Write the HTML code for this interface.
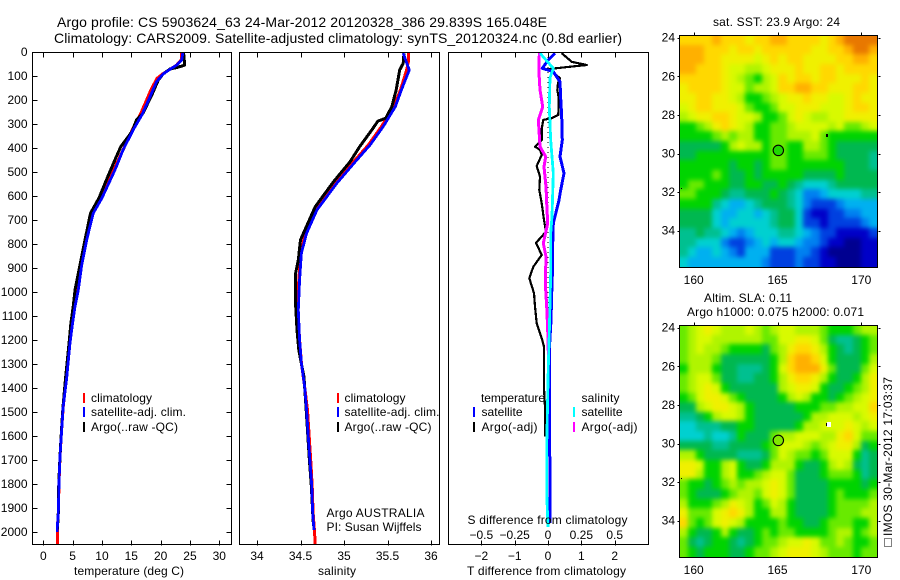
<!DOCTYPE html>
<html lang="en">
<head>
<meta charset="utf-8">
<title>Argo profile CS 5903624_63</title>
<style>
html,body{margin:0;padding:0;background:#fff;}
svg{display:block;}
text{font-family:"Liberation Sans",sans-serif;font-size:12px;fill:#000;}
.t14{font-size:14px;}
</style>
</head>
<body>
<svg id="chart" xmlns="http://www.w3.org/2000/svg" width="900" height="580" viewBox="0 0 900 580">
  <defs>
    <filter id="map-soften" filterUnits="userSpaceOnUse" x="640" y="0" width="260" height="580" color-interpolation-filters="sRGB">
      <feGaussianBlur stdDeviation="2.4"/>
    </filter>
  </defs>
  <rect x="0" y="0" width="900" height="580" fill="#fff"/>
  <text class="t14" x="57" y="27" textLength="490" lengthAdjust="spacing">Argo profile: CS 5903624_63 24-Mar-2012 20120328_386 29.839S 165.048E</text>
  <text class="t14" x="54" y="43" textLength="568" lengthAdjust="spacing">Climatology: CARS2009. Satellite-adjusted climatology: synTS_20120324.nc (0.8d earlier)</text>

  <g id="layer-maps"></g>
  <g id="layer-profiles"></g>

  <g>
    <rect x="83" y="393" width="2" height="10" fill="#f00"/>
    <rect x="83" y="407" width="2" height="10" fill="#00f"/>
    <rect x="83" y="422" width="2" height="10" fill="#000"/>
    <text x="91" y="402" textLength="61">climatology</text>
    <text x="91" y="416" textLength="95">satellite-adj. clim.</text>
    <text x="91" y="431" textLength="87">Argo(..raw -QC)</text>
  </g>
  <g>
    <rect x="337" y="393" width="2" height="10" fill="#f00"/>
    <rect x="337" y="407" width="2" height="10" fill="#00f"/>
    <rect x="337" y="422" width="2" height="10" fill="#000"/>
    <text x="344.5" y="402" textLength="61">climatology</text>
    <text x="344.5" y="416" textLength="95">satellite-adj. clim.</text>
    <text x="344.5" y="431" textLength="87">Argo(..raw -QC)</text>
    <text x="326.5" y="517" textLength="98">Argo AUSTRALIA</text>
    <text x="326.5" y="531" textLength="95">PI: Susan Wijffels</text>
  </g>
  <g>
    <text x="481" y="402" textLength="64">temperature</text>
    <text x="581.5" y="402" textLength="38">salinity</text>
    <rect x="473" y="407" width="2" height="10" fill="#00f"/>
    <rect x="473" y="422" width="2" height="10" fill="#000"/>
    <rect x="573" y="407" width="2" height="10" fill="#0ff"/>
    <rect x="573" y="422" width="2" height="10" fill="#f0f"/>
    <text x="481.5" y="416" textLength="41">satellite</text>
    <text x="481.5" y="431" textLength="56">Argo(-adj)</text>
    <text x="581.5" y="416" textLength="41">satellite</text>
    <text x="581.5" y="431" textLength="56">Argo(-adj)</text>
  </g>

  <text x="74" y="575" textLength="110">temperature (deg C)</text>
  <text x="318" y="575" textLength="38">salinity</text>
  <text x="467" y="575" textLength="159">T difference from climatology</text>
  <text x="467.5" y="524" textLength="160">S difference from climatology</text>

  <text x="713" y="26" textLength="127">sat. SST: 23.9 Argo: 24</text>
  <text x="704" y="302" textLength="88">Altim. SLA: 0.11</text>
  <text x="687" y="316" textLength="177">Argo h1000: 0.075 h2000: 0.071</text>

  <rect x="884.5" y="538.5" width="7" height="8" fill="none" stroke="#000" stroke-width="1" stroke-dasharray="1 1" shape-rendering="crispEdges"/>
  <text transform="translate(892,536) rotate(-90)" x="0" y="0" textLength="159">IMOS 30-Mar-2012 17:03:37</text>
</svg>

<script>
// ---------- depth axis ----------
const depthTicks = [0,100,200,300,400,500,600,700,800,900,1000,1100,1200,1300,1400,1500,1600,1700,1800,1900,2000];

// ---------- temperature panel ----------
const tempTicks = [0,5,10,15,20,25,30];
const tempClimDepth = [0,33,55,72,92,110,150,200,262,317,408,492,608,672,783,888,992,1061,1130,1212,1358,1478,1575,1686,1796,1921,1980,2055];
const tempClimValue = [23.6,23.5,22.7,21.6,20.3,19.4,18.5,17.6,16.5,15.3,13.6,12.0,9.8,8.3,7.3,6.4,5.8,5.3,4.95,4.5,3.95,3.4,3.12,2.85,2.68,2.55,2.4,2.4];
const tempSatDepth = [0,33,55,72,92,124,186,262,325,408,492,608,672,783,888,992,1061,1130,1212,1358,1478,1575,1686,1796,1921,1980,2000];
const tempSatValue = [23.8,23.6,22.7,21.6,20.4,19.3,18.2,16.8,15.3,13.6,12.2,10.0,8.5,7.4,6.55,5.97,5.4,5.0,4.55,3.99,3.4,3.14,2.85,2.68,2.56,2.39,2.39];
const tempArgoDepth = [0,26,55,65,71,92,117,179,255,283,332,395,450,519,608,672,795,888,992,1061,1130,1212,1358,1478,1575,1686,1796,1921,1990];
const tempArgoValue = [23.9,24.0,24.1,22.7,21.6,20.4,19.6,18.5,17.0,15.9,15.1,13.2,12.2,11.0,9.5,8.05,7.0,6.25,5.4,5.1,4.7,4.4,3.8,3.35,3.1,2.85,2.65,2.55,2.4];

// ---------- salinity panel ----------
const salTicks = [34,34.5,35,35.5,36];
const salClimDepth = [0,40,75,158,228,311,387,457,546,658,742,853,950,1075,1200,1296,1400,1492,1603,1713,1811,1921,1992,2055];
const salClimValue = [35.74,35.74,35.72,35.65,35.57,35.43,35.28,35.11,34.9,34.67,34.56,34.5,34.48,34.47,34.49,34.51,34.55,34.58,34.6,34.62,34.635,34.645,34.66,34.67];
const salSatDepth = [5,75,158,228,311,387,457,546,658,755,838,950,1075,1200,1296,1400,1492,1603,1713,1811,1921,1992];
const salSatValue = [35.68,35.75,35.66,35.59,35.45,35.30,35.13,34.92,34.69,34.57,34.51,34.49,34.475,34.49,34.51,34.55,34.57,34.59,34.61,34.63,34.64,34.655];
const salArgoDepth = [5,47,75,158,228,276,288,325,394,457,540,644,783,867,920,1060,1158,1242,1354,1492,1603,1713,1811,1921,1975];
const salArgoValue = [35.69,35.68,35.64,35.6,35.55,35.48,35.39,35.32,35.18,35.07,34.88,34.67,34.50,34.475,34.445,34.445,34.46,34.48,34.54,34.565,34.585,34.605,34.625,34.64,34.65];

// ---------- difference panel ----------
const diffTTicks = [-2,-1,0,1,2];
const diffSTicks = [-0.5,-0.25,0,0.25,0.5];
const diffSTickLabels = ["\u22120.5","\u22120.25","0","0.25","0.5"];
const diffTTickLabels = ["\u22122","\u22121","0","1","2"];
const diffTArgoDepth = [5,41,54,60,72,90,110,130,158,190,262,276,283,320,367,394,408,429,475,519,575,630,700,749,795,846,895,942,1005,1061,1130,1192,1228,1311,1400,1505,1603];
const diffTArgoValue = [.41,.71,1.16,.75,-.04,.2,.36,.3,.28,.32,.31,.11,-.14,-.19,-.19,-.39,-.24,-.19,-.34,-.24,-.26,-.19,-.12,-.06,-.36,-.19,-.44,-.56,-.42,-.39,-.34,-.19,-.12,-.12,-.12,-.08,-.08];
const diffTSatDepth = [5,33,68,82,124,193,270,367,436,505,575,617,686,714,797,880,1005,1117,1242,1394,1505,1783,1963];
const diffTSatValue = [.21,.01,-.17,.16,.36,.38,.41,.43,.36,.48,.38,.33,.21,.16,.14,.14,.11,.09,.04,.04,.04,.06,.06];
const diffSArgoDepth = [5,88,158,228,283,325,394,436,478,561,630,714,797,853,963,1061,1158,1250,1650];
const diffSArgoValue = [-.065,-.0675,-.06,-.04,-.0725,-.0675,-.06,-.0175,-.03,-.015,-.01,-.0025,-.035,-.015,-.02,-.01,-.0025,.0025,.005];
const diffSSatDepth = [5,68,108,228,367,505,686,755,922,1171,1311,1645,1838,1980];
const diffSSatValue = [-.06,.04,.015,.01,.02,.04,.03,.02,.02,.01,.0025,-.01,-.01,0];

// ---------- maps ----------
const mapLonTicks = [160,165,170];
const mapLatTicks = [24,26,28,30,32,34];
const mapLevelColors = ["#000090","#0000c8","#0040e0","#0080f0","#00b0f0","#00d0d0","#00c090","#00b850","#00d400","#68ea00","#b0f400","#d8fa00","#f0f000","#ffd800","#ffb000","#e87800"];
const floatLon = [165.05];
const floatLat = [29.84];
const sstLevels = [
[13,13,13,13,14,13,13,13,12,13,13,14,14,13,13,13,13,12,13,14,15,15,15,15],
[14,14,14,13,13,13,12,13,13,12,13,13,13,13,13,13,12,12,13,13,14,15,15,14],
[14,14,14,13,13,12,12,12,12,11,12,13,12,13,13,12,12,12,12,13,13,14,14,13],
[14,14,13,13,13,12,11,11,10,10,11,12,12,12,13,12,12,13,13,12,13,13,13,13],
[13,13,13,13,13,12,11,10,9,8,10,11,13,12,13,13,12,13,13,12,12,12,13,12],
[12,13,13,13,13,12,11,11,9,10,10,11,13,13,14,14,13,13,12,12,12,13,13,12],
[12,12,13,13,12,12,11,10,8,8,9,10,11,12,12,13,12,12,11,11,12,13,12,12],
[11,12,13,13,12,12,12,11,9,8,8,9,11,11,12,12,12,11,11,11,12,13,13,12],
[10,11,12,12,13,13,12,11,11,10,8,8,9,11,12,11,10,10,11,11,12,12,12,12],
[8,8,9,10,12,13,12,11,10,8,8,9,9,10,11,11,11,11,10,11,9,9,10,11],
[8,8,8,8,9,10,9,10,10,8,8,9,9,10,10,10,11,9,8,8,8,8,8,8],
[7,7,7,7,7,8,10,11,10,10,8,9,9,8,8,10,10,9,8,7,7,7,7,7],
[7,7,8,8,8,8,8,8,8,8,8,9,9,8,8,9,9,9,8,7,7,7,7,6],
[8,8,8,8,8,8,7,8,8,7,8,9,9,8,8,8,8,8,8,8,7,7,7,6],
[8,8,8,8,9,8,7,7,8,7,8,8,8,8,8,7,7,7,7,8,7,7,7,7],
[8,9,9,8,8,8,7,7,8,8,7,7,8,7,6,5,5,5,6,7,7,7,7,7],
[9,9,8,8,8,7,6,6,7,7,7,8,7,6,5,3,3,4,5,5,5,5,6,6],
[8,8,8,8,6,5,4,4,5,6,7,7,7,6,5,3,2,2,2,3,4,4,4,4],
[7,7,7,7,5,4,4,5,5,4,5,6,7,7,5,2,1,1,2,2,3,3,4,4],
[7,7,7,7,5,4,5,5,5,5,5,6,7,7,5,2,2,1,2,2,2,2,3,4],
[6,6,7,6,6,5,4,3,4,5,5,5,6,6,5,4,3,2,2,1,1,1,1,2],
[6,6,5,5,5,3,2,2,3,4,5,4,5,5,4,3,3,2,1,1,0,0,1,1],
[6,5,4,4,5,4,3,2,4,4,4,2,2,2,3,3,2,1,0,0,0,0,1,1],
[5,4,4,4,4,4,4,4,4,4,3,2,2,2,3,2,2,1,1,0,0,0,1,1]
];
const slaLevels = [
[9,10,11,12,11,10,10,10,11,10,9,10,11,11,10,10,10,9,8,8,8,9,10,10],
[9,10,11,11,10,10,10,10,10,10,9,9,11,11,12,12,11,9,7,6,6,7,8,9],
[9,10,11,10,10,9,8,8,8,8,7,9,10,12,13,13,12,10,8,7,6,7,8,9],
[9,10,10,10,9,7,7,7,7,7,7,8,10,13,14,14,13,11,8,7,7,7,8,10],
[8,10,10,10,8,7,7,6,6,6,7,8,11,13,14,14,14,12,9,7,7,7,9,11],
[9,10,11,11,9,7,7,6,6,7,7,8,10,12,13,13,12,10,8,7,7,8,10,12],
[9,10,11,12,11,8,7,7,7,7,7,7,10,11,12,12,11,8,7,7,8,9,10,12],
[8,9,11,12,12,11,9,8,7,7,7,7,8,10,11,10,8,8,7,8,9,10,11,12],
[7,7,10,11,12,12,11,10,8,7,7,7,7,7,8,8,8,9,9,10,10,11,11,13],
[6,6,7,8,10,11,11,10,8,7,7,7,7,7,7,8,10,10,11,11,11,10,11,12],
[5,5,6,6,6,7,7,8,8,7,7,7,7,7,8,10,10,11,11,11,12,11,10,11],
[5,5,5,6,5,5,6,8,7,7,7,9,10,10,11,11,11,10,10,12,13,11,9,9],
[7,7,7,7,6,6,7,7,7,7,8,9,11,11,11,10,9,10,11,12,12,10,7,8],
[10,10,8,7,7,7,7,6,6,6,7,9,11,10,9,9,8,9,11,11,11,8,6,7],
[12,12,11,8,8,10,11,8,7,7,8,10,10,10,8,7,7,8,10,11,10,7,6,7],
[12,12,10,8,8,10,11,8,8,9,10,11,11,9,7,7,7,8,9,9,9,8,6,7],
[9,8,8,7,8,9,10,9,10,10,11,12,11,9,7,7,7,7,8,8,8,8,7,8],
[9,8,7,7,7,8,9,10,10,9,11,12,11,9,7,7,7,7,8,9,8,8,8,9],
[10,8,8,8,9,10,12,11,10,8,9,11,10,8,7,7,7,7,8,9,9,9,9,10],
[12,9,9,9,11,12,13,12,10,8,8,10,10,8,7,7,7,7,8,9,9,9,10,10],
[13,9,8,9,11,12,11,10,8,8,8,8,9,8,8,7,7,8,9,9,9,8,8,10],
[10,8,7,7,8,10,8,7,7,8,9,8,9,9,8,8,8,8,9,10,10,8,9,10],
[9,7,6,7,8,8,7,6,7,8,9,9,10,11,11,12,11,9,9,10,9,8,8,9],
[9,8,7,8,8,8,7,7,8,9,9,10,11,12,12,12,11,10,9,9,9,8,9,9]
];

// ---------- panel layout ----------
const svgNS = "http://www.w3.org/2000/svg";
const panelTop = 52, panelBottom = 545;
const depthY = d => panelTop + 0.24 * d;
const tempX = v => 43.3 + 5.867 * v;
const salX = v => 257 + 87 * (v - 34);
const diffTX = v => 548 + 33.33 * v;
const diffSX = v => 548 + 133.33 * v;

const mapWest = 159.15, mapEast = 170.95, mapNorth = 23.86, mapSouth = 35.86;
const mapLonX = lon => 693.7 + 16.76 * (lon - 160);
const profiles = document.getElementById("layer-profiles");
const maps = document.getElementById("layer-maps");

function make(tag, parent) {
  const el = document.createElementNS(svgNS, tag);
  parent.appendChild(el);
  return el;
}
function drawText(parent, str, x, y, anchor, name) {
  const t = make("text", parent);
  t.setAttribute("x", x);
  t.setAttribute("y", y);
  t.setAttribute("text-anchor", anchor);
  t.textContent = str;
  
  
  return t;
}
function drawTick(parent, x1, y1, x2, y2, name) {
  const l = make("line", parent);
  l.setAttribute("x1", Math.round(x1) + 0.5);
  l.setAttribute("x2", Math.round(x2) + 0.5);
  l.setAttribute("y1", Math.round(y1) + 0.5);
  l.setAttribute("y2", Math.round(y2) + 0.5);
  l.setAttribute("stroke", "#000");
  l.setAttribute("stroke-width", "1");
  l.setAttribute("shape-rendering", "crispEdges");
  
  
}
function drawFrame(parent, x, y, w, h, sw, name) {
  const r = make("rect", parent);
  r.setAttribute("x", x);
  r.setAttribute("y", y);
  r.setAttribute("width", w);
  r.setAttribute("height", h);
  r.setAttribute("fill", "none");
  r.setAttribute("stroke", "#000");
  r.setAttribute("stroke-width", sw);
  r.setAttribute("shape-rendering", "crispEdges");
  
  
}
function drawSeries(parent, depths, values, xFn, color, width, name, clipId) {
  const p = make("polyline", parent);
  p.setAttribute("points", depths.map((d, i) => xFn(values[i]).toFixed(1) + "," + depthY(d).toFixed(1)).join(" "));
  p.setAttribute("fill", "none");
  p.setAttribute("stroke", color);
  p.setAttribute("stroke-width", width);
  p.setAttribute("shape-rendering", "crispEdges");
  p.setAttribute("stroke-linejoin", "round");
  p.setAttribute("clip-path", "url(#" + clipId + ")");
  
  
}
function addClip(parent, id, x, y, w, h) {
  const c = make("clipPath", parent);
  c.setAttribute("id", id);
  const r = make("rect", c);
  r.setAttribute("x", x);
  r.setAttribute("y", y);
  r.setAttribute("width", w);
  r.setAttribute("height", h);
}

// ---------- temperature panel ----------
addClip(profiles, "clip-temp", 32, panelTop, 199, panelBottom - panelTop);
addClip(profiles, "clip-sal", 239, panelTop, 200, panelBottom - panelTop);
addClip(profiles, "clip-diff", 448, panelTop, 200, panelBottom - panelTop);

drawSeries(profiles, tempClimDepth, tempClimValue, tempX, "#f00", 3, "temperature-climatology-line", "clip-temp");
drawSeries(profiles, tempArgoDepth, tempArgoValue, tempX, "#000", 3, "temperature-argo-line", "clip-temp");
drawSeries(profiles, tempSatDepth, tempSatValue, tempX, "#00f", 2.8, "temperature-satellite-line", "clip-temp");
drawFrame(profiles, 32.5, 52.5, 199, 492, 1.2, "temperature-panel-frame");
depthTicks.forEach(d => {
  drawTick(profiles, 32, depthY(d), 37, depthY(d), "depth-tick-left");
  drawTick(profiles, 226, depthY(d), 231, depthY(d), "depth-tick-right");
  drawText(profiles, String(d), 27.5, depthY(d) + 4, "end", "depth-tick-label");
});
tempTicks.forEach(v => {
  drawTick(profiles, tempX(v), 52, tempX(v), 57, "temperature-tick-top");
  drawTick(profiles, tempX(v), 540, tempX(v), 545, "temperature-tick-bottom");
  drawText(profiles, String(v), tempX(v), 560, "middle", "temperature-tick-label");
});

// ---------- salinity panel ----------
drawSeries(profiles, salClimDepth, salClimValue, salX, "#f00", 3, "salinity-climatology-line", "clip-sal");
drawSeries(profiles, salArgoDepth, salArgoValue, salX, "#000", 3, "salinity-argo-line", "clip-sal");
drawSeries(profiles, salSatDepth, salSatValue, salX, "#00f", 2.8, "salinity-satellite-line", "clip-sal");
drawFrame(profiles, 239.5, 52.5, 200, 492, 1.2, "salinity-panel-frame");
salTicks.forEach(v => {
  drawTick(profiles, salX(v), 52, salX(v), 57, "salinity-tick-top");
  drawTick(profiles, salX(v), 540, salX(v), 545, "salinity-tick-bottom");
  drawText(profiles, String(v), salX(v), 560, "middle", "salinity-tick-label");
});

// ---------- difference panel ----------
const zeroLine = make("line", profiles);
zeroLine.setAttribute("x1", diffTX(0));
zeroLine.setAttribute("x2", diffTX(0));
zeroLine.setAttribute("y1", panelTop);
zeroLine.setAttribute("y2", 440);
zeroLine.setAttribute("stroke", "#000");
zeroLine.setAttribute("stroke-width", "1");
zeroLine.setAttribute("stroke-dasharray", "1 4");
zeroLine.setAttribute("shape-rendering", "crispEdges");



drawSeries(profiles, diffTArgoDepth, diffTArgoValue, diffTX, "#000", 2.2, "t-difference-argo-line", "clip-diff");
drawSeries(profiles, diffSArgoDepth, diffSArgoValue, diffSX, "#f0f", 3, "s-difference-argo-line", "clip-diff");
drawSeries(profiles, diffTSatDepth, diffTSatValue, diffTX, "#00f", 3, "t-difference-satellite-line", "clip-diff");
drawSeries(profiles, diffSSatDepth, diffSSatValue, diffSX, "#0ff", 2.8, "s-difference-satellite-line", "clip-diff");
drawFrame(profiles, 448.5, 52.5, 200, 492, 1.2, "difference-panel-frame");
diffTTicks.forEach((v, i) => {
  drawTick(profiles, diffTX(v), 52, diffTX(v), 57, "t-difference-tick-top");
  drawTick(profiles, diffTX(v), 540, diffTX(v), 545, "t-difference-tick-bottom");
  drawText(profiles, diffTTickLabels[i], diffTX(v), 560, "middle", "t-difference-tick-label");
});
diffSTicks.forEach((v, i) => {
  drawText(profiles, diffSTickLabels[i], diffSX(v), 539, "middle", "s-difference-tick-label");
});

// ---------- maps ----------
function drawMap(levels, top, bottom, markerFill, prefix) {
  const latY = lat => top + 2.7 + 19.3 * (lat - 24);
  const rows = levels.length, cols = levels[0].length;
  const cellLon = (mapEast - mapWest) / cols, cellLat = (mapSouth - mapNorth) / rows;
  const clipId = prefix + "-clip";
  addClip(maps, clipId, 679, top, 199, bottom - top + 1);
  const clipGroup = make("g", maps);
  clipGroup.setAttribute("clip-path", "url(#" + clipId + ")");
  
  
  const field = make("g", clipGroup);
  field.setAttribute("filter", "url(#map-soften)");
  
  
  levels.forEach((row, j) => {
    row.forEach((v, i) => {
      let x0 = Math.round(mapLonX(mapWest + i * cellLon));
      let x1 = Math.round(mapLonX(mapWest + (i + 1) * cellLon));
      let y0 = Math.round(latY(mapNorth + j * cellLat));
      let y1 = Math.round(latY(mapNorth + (j + 1) * cellLat));
      if (i === 0) x0 -= 12;
      if (i === cols - 1) x1 += 12;
      if (j === 0) y0 -= 12;
      if (j === rows - 1) y1 += 12;
      const r = make("rect", field);
      r.setAttribute("x", x0);
      r.setAttribute("y", y0);
      r.setAttribute("width", x1 - x0);
      r.setAttribute("height", y1 - y0);
      r.setAttribute("fill", mapLevelColors[Math.max(0, Math.min(15, Math.round(v)))]);
      r.setAttribute("shape-rendering", "crispEdges");
      
      
    });
  });
  drawFrame(maps, 679.5, top + 0.5, 198, bottom - top, 1.4, prefix + "-frame");
  mapLonTicks.forEach(lon => {
    drawTick(maps, mapLonX(lon), top - 3, mapLonX(lon), top, prefix + "-lon-tick");
    drawText(maps, String(lon), mapLonX(lon), bottom + 17, "middle", prefix + "-lon-label");
  });
  mapLatTicks.forEach(lat => {
    drawTick(maps, 677, latY(lat), 679, latY(lat), prefix + "-lat-tick-left");
    drawTick(maps, 878, latY(lat), 880, latY(lat), prefix + "-lat-tick-right");
    drawText(maps, String(lat), 675, latY(lat) + 4, "end", prefix + "-lat-label");
  });
  const m = make("circle", maps);
  m.setAttribute("cx", mapLonX(floatLon[0]));
  m.setAttribute("cy", latY(floatLat[0]));
  m.setAttribute("r", "5.2");
  m.setAttribute("fill", markerFill);
  m.setAttribute("stroke", "#000");
  m.setAttribute("stroke-width", "1.1");
  
  
  const edgeSpeck = make("rect", maps);
  edgeSpeck.setAttribute("x", 681);
  edgeSpeck.setAttribute("y", top + 153);
  edgeSpeck.setAttribute("width", 1);
  edgeSpeck.setAttribute("height", 1);
  edgeSpeck.setAttribute("fill", "#000");
  
  
}
drawMap(sstLevels, 35, 267, "#20d800", "sst-map");
drawMap(slaLevels, 325, 557, "#80e800", "sla-map");

const speck1 = make("rect", maps);
speck1.setAttribute("x", 826);
speck1.setAttribute("y", 134);
speck1.setAttribute("width", 2);
speck1.setAttribute("height", 3);
speck1.setAttribute("fill", "#000");


const speck2 = make("rect", maps);
speck2.setAttribute("x", 827);
speck2.setAttribute("y", 422);
speck2.setAttribute("width", 4);
speck2.setAttribute("height", 5);
speck2.setAttribute("fill", "#fff");


const speck3 = make("rect", maps);
speck3.setAttribute("x", 826);
speck3.setAttribute("y", 423);
speck3.setAttribute("width", 1);
speck3.setAttribute("height", 3);
speck3.setAttribute("fill", "#000");


</script>
</body>
</html>
